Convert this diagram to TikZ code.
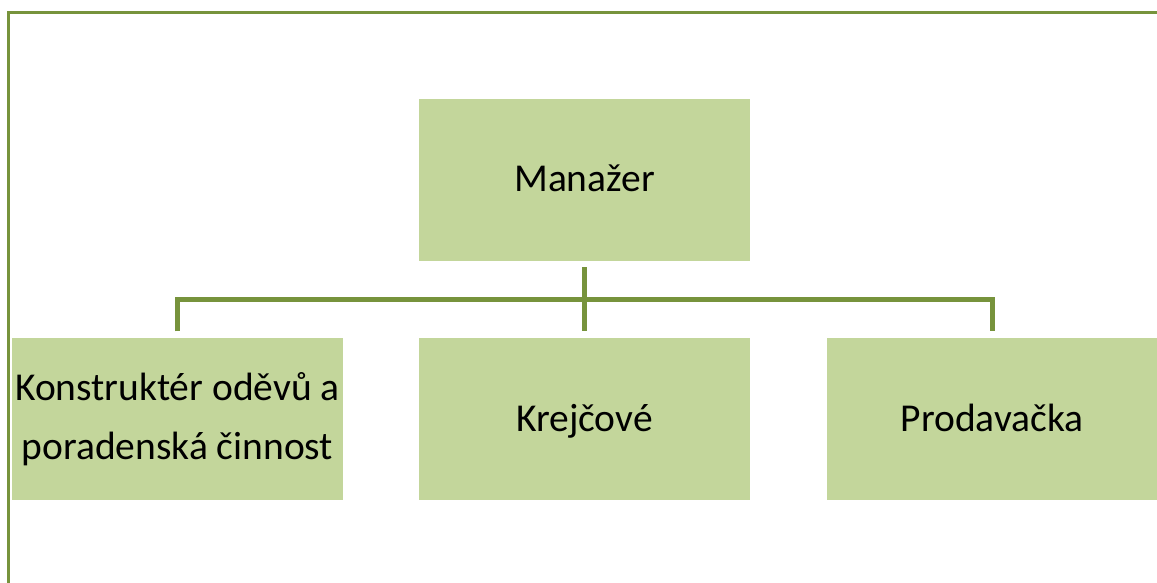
\documentclass[tikz,border=0pt]{standalone}
\usepackage{fontspec}
\setmainfont{Carlito}
\usepackage{xcolor}
\definecolor{olivegreen}{HTML}{77933C}
\definecolor{palegreen}{HTML}{C3D69B}

\begin{document}
\begin{tikzpicture}[x=1pt,y=1pt,
        box/.style={fill=palegreen, minimum width=331pt, minimum height=162pt,
            inner sep=0pt, align=center, font=\fontsize{39.5}{59}\selectfont},
        single/.style={box, text height=30pt, text depth=6pt},
        link/.style={draw=olivegreen, line width=5pt, line join=miter}]
    \useasboundingbox (0,0) rectangle (1157,583);
    \draw[olivegreen, line width=2.5pt] (8.5,0) -- (8.5,570.5) -- (1157,570.5);

    \node[single] (man) at (584.5,403) {Manažer};
    \node[box] (kons) at (177.5,163.5) {Konstruktér oděvů a\\poradenská činnost};
    \node[single] (krej) at (584.5,163.5) {Krejčové};
    \node[single] (prod) at (992,163.5) {Prodavačka};

    \draw[link] ([yshift=-6pt]man.south) -- ([yshift=7pt]krej.north);
    \draw[link] ([yshift=7pt]kons.north) -- ++(0,32) -| ([yshift=7pt]prod.north);
\end{tikzpicture}
\end{document}
